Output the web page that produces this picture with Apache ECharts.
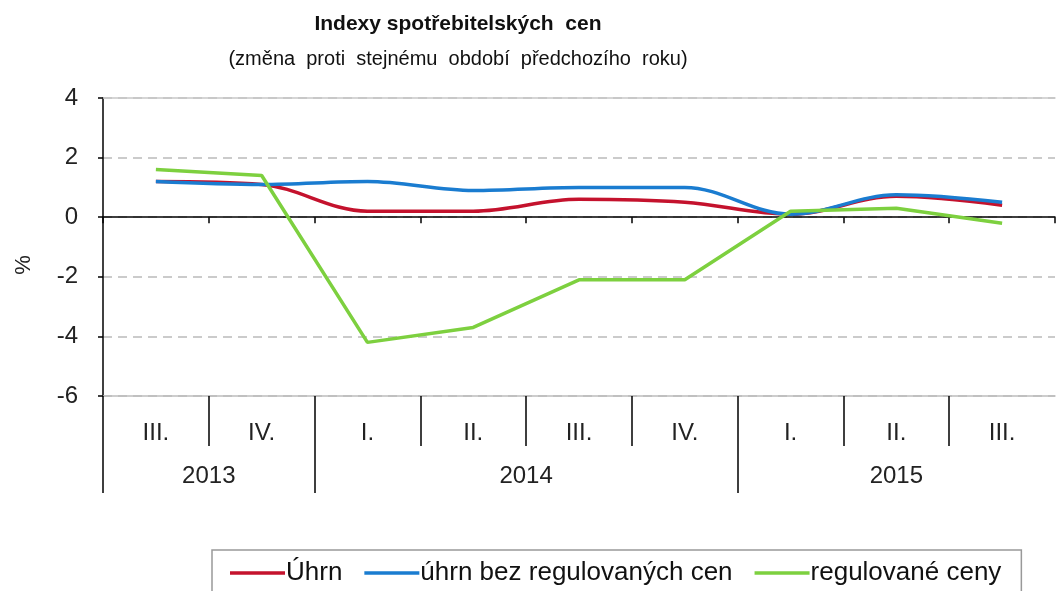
<!DOCTYPE html>
<html>
<head>
<meta charset="utf-8">
<script src="https://cdn.jsdelivr.net/npm/echarts@6/dist/echarts.min.js"></script>
<style>
  html, body { margin: 0; padding: 0; background: #fff; }
  #chart { width: 1058px; height: 591px; }
</style>
</head>
<body>
<div id="chart"></div>
<script>
// quarters and their years
const quarters = ['III.', 'IV.', 'I.', 'II.', 'III.', 'IV.', 'I.', 'II.', 'III.']
const years = ['2013', '2014', '2015']
const yearSpans = [2, 4, 3]

// y/y change in %
const uhrn = [1.2, 1.1, 0.2, 0.2, 0.6, 0.5, 0.1, 0.7, 0.4]
const bezRegulovanych = [1.2, 1.1, 1.2, 0.9, 1.0, 1.0, 0.1, 0.75, 0.5]
const regulovane = [1.6, 1.4, -4.2, -3.7, -2.1, -2.1, 0.2, 0.3, -0.2]

const yTicks = { min: -6, max: 4, interval: 2 }

// quarter and year positions in quarter units
const quarterCentres = quarters.map((q, i) => i + 0.5)
const quarterBounds = quarters.slice(1).map((q, i) => i + 1)
const yearBounds = [0]
const yearCentres = []
yearSpans.forEach((s, i) => {
  yearCentres.push(yearBounds[i] + s / 2)
  yearBounds.push(yearBounds[i] + s)
})

const sans = '"Liberation Sans", Arial, sans-serif'

const chart = echarts.init(document.getElementById('chart'))
chart.setOption({
  animation: false,
  title: {
    text: 'Indexy spotřebitelských  cen',
    subtext: '(změna  proti  stejnému  období  předchozího  roku)',
    left: 453,
    textAlign: 'center',
    top: 9,
    itemGap: 14,
    textStyle: { fontFamily: sans, fontWeight: 'bold', fontSize: 21, color: '#111' },
    subtextStyle: { fontFamily: sans, fontSize: 20, color: '#111' }
  },
  legend: {
    left: 212,
    top: 550,
    padding: [10, 20, 10, 18],
    borderColor: '#999',
    borderWidth: 1.5,
    icon: 'rect',
    itemWidth: 55,
    itemHeight: 3.5,
    itemGap: 22,
    textStyle: { fontFamily: sans, fontSize: 26, color: '#111', padding: [0, 0, 0, -4] },
    data: ['Úhrn', 'úhrn bez regulovaných cen', 'regulované ceny']
  },
  grid: { left: 103, right: 3, top: 98, bottom: 195 },
  xAxis: [
    {
      // zero line with small ticks
      type: 'category',
      data: quarters,
      boundaryGap: true,
      axisLine: { onZero: true, lineStyle: { color: '#000', width: 1.5 } },
      axisTick: { show: true, length: 6, lineStyle: { color: '#000', width: 1.5 } },
      axisLabel: { show: false },
      splitLine: { show: false }
    },
    {
      // quarter labels under the plot
      type: 'value',
      position: 'bottom',
      min: 0,
      max: quarters.length,
      splitLine: { show: false },
      axisLine: { onZero: false, lineStyle: { color: '#bdbdbd', width: 1.5 } },
      axisTick: {
        show: true,
        length: 50,
        customValues: quarterBounds,
        lineStyle: { color: '#000', width: 1.5 }
      },
      axisLabel: {
        customValues: quarterCentres,
        formatter: (v) => quarters[Math.floor(v)],
        fontFamily: sans, fontSize: 24, color: '#222', margin: 25
      }
    },
    {
      // year labels
      type: 'value',
      position: 'bottom',
      min: 0,
      max: quarters.length,
      axisLine: { show: false, onZero: false },
      splitLine: { show: false },
      axisTick: {
        show: true,
        length: 97,
        customValues: yearBounds.slice(0, -1),
        lineStyle: { color: '#000', width: 1.5 }
      },
      axisLabel: {
        customValues: yearCentres,
        formatter: (v) => years[yearCentres.indexOf(v)],
        fontFamily: sans, fontSize: 24, color: '#222', margin: 68
      }
    },
    {
      // top border
      type: 'category',
      data: quarters,
      position: 'top',
      axisLine: { onZero: false, lineStyle: { color: '#c8c8c8', width: 1.5 } },
      axisTick: { show: false },
      axisLabel: { show: false }
    }
  ],
  yAxis: {
    type: 'value',
    min: yTicks.min,
    max: yTicks.max,
    interval: yTicks.interval,
    name: '%',
    nameLocation: 'middle',
    nameGap: 68,
    nameRotate: 90,
    nameTextStyle: { fontFamily: sans, fontSize: 22, color: '#222', padding: [0, 36, 0, 0] },
    axisLine: { show: true, lineStyle: { color: '#000', width: 1.5 } },
    axisTick: { show: true, length: 5, lineStyle: { color: '#000', width: 1.5 } },
    axisLabel: { fontFamily: sans, fontSize: 24, color: '#222', margin: 25 },
    splitLine: { lineStyle: { color: '#bbb', width: 1.5, type: [9, 6] } }
  },
  series: [
    {
      name: 'Úhrn', type: 'line', data: uhrn, smooth: 0.35, symbol: 'none',
      itemStyle: { color: '#C4122D' }, lineStyle: { width: 3.5, color: '#C4122D' }, z: 3
    },
    {
      name: 'úhrn bez regulovaných cen', type: 'line', data: bezRegulovanych, smooth: 0.35, symbol: 'none',
      itemStyle: { color: '#1A7CD0' }, lineStyle: { width: 3.5, color: '#1A7CD0' }, z: 4
    },
    {
      name: 'regulované ceny', type: 'line', data: regulovane, symbol: 'none',
      itemStyle: { color: '#7DD03F' }, lineStyle: { width: 3.5, color: '#7DD03F' }, z: 5
    }
  ]
})
</script>
</body>
</html>
